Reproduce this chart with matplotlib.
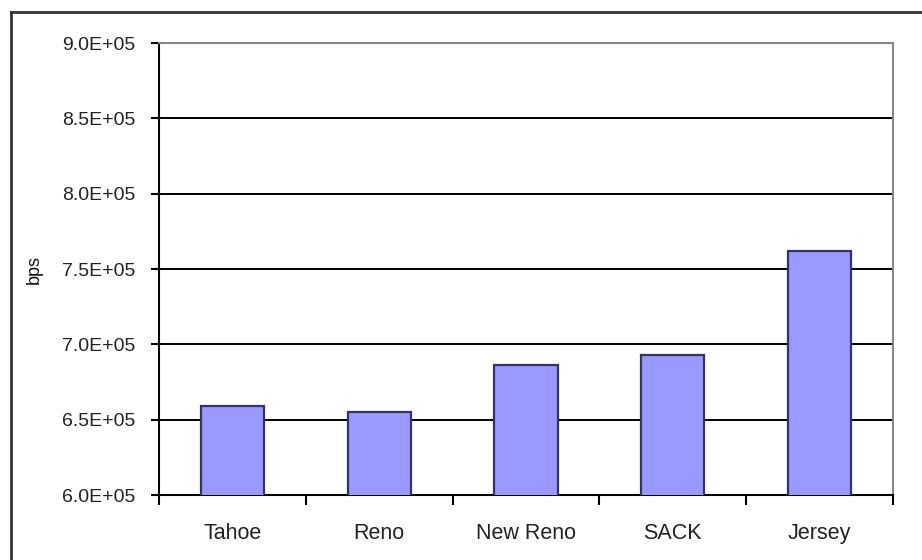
import numpy as np
import matplotlib
matplotlib.use("Agg")
import matplotlib.pyplot as plt
from matplotlib.lines import Line2D

# throughput per TCP variant
variants = ["Tahoe", "Reno", "New Reno", "SACK", "Jersey"]
throughput = [6.59e5, 6.55e5, 6.86e5, 6.93e5, 7.62e5]
yticks = [6.0e5, 6.5e5, 7.0e5, 7.5e5, 8.0e5, 8.5e5, 9.0e5]

plt.rcParams["font.family"] = ["Liberation Sans", "DejaVu Sans"]

fig = plt.figure(figsize=(9.22, 5.6), dpi=100)
ax = fig.add_axes([159 / 922, 65 / 560, 734 / 922, 452 / 560])

x = np.arange(len(variants))
ax.bar(x, throughput, width=0.43, color="#9999ff", edgecolor="#333366",
       linewidth=1.6, zorder=3)

ax.set_xlim(-0.5, len(variants) - 0.5)
ax.set_ylim(yticks[0], yticks[-1])
ax.set_yticks(yticks)
ax.set_yticklabels([f"{v / 1e5:.1f}E+05" for v in yticks], fontsize=14, color="#222222")
ax.yaxis.grid(True, color="black", linewidth=1.4, zorder=1)

# category labels centred, tick marks on the boundaries
ax.set_xticks(x)
ax.set_xticklabels(variants, fontsize=15.5, color="#222222")
ax.tick_params(axis="x", length=0, pad=20)
ax.set_xticks(np.arange(-0.5, len(variants)), minor=True)
ax.tick_params(axis="x", which="minor", length=7, width=1.5, direction="out")
ax.tick_params(axis="y", length=6, width=1.5, direction="out", pad=11)

for side in ["left", "bottom"]:
    ax.spines[side].set_color("black")
    ax.spines[side].set_linewidth(1.5)
for side in ["top", "right"]:
    ax.spines[side].set_color("#888888")
    ax.spines[side].set_linewidth(1.5)

ax.set_ylabel("bps", fontsize=13, color="#111111")
ax.yaxis.set_label_coords(-0.158, 0.5)

# chart area frame
fig.add_artist(Line2D([11 / 922, 11 / 922], [0, 1 - 12 / 560], color="#333333", lw=2))
fig.add_artist(Line2D([11 / 922, 1], [1 - 12 / 560, 1 - 12 / 560], color="#333333", lw=2))

fig.savefig("out.png", dpi=100)
